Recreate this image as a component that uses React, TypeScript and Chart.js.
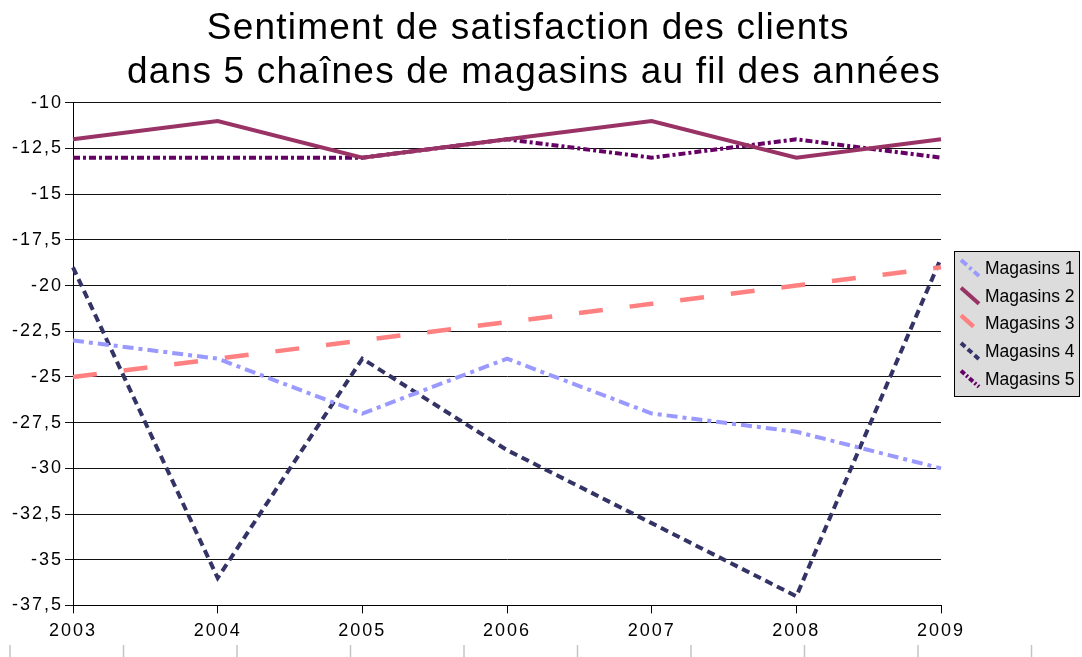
import React, { useEffect, useRef } from 'react';
import { Chart, registerables } from 'chart.js';

Chart.register(...registerables);

const years = ['2003', '2004', '2005', '2006', '2007', '2008', '2009'];
const magasins1 = [-23, -24, -27, -24, -27, -28, -30];
const magasins2 = [-12, -11, -13, -12, -11, -13, -12];
const magasins3 = [-25, -24, -23, -22, -21, -20, -19];
const magasins4 = [-19, -36, -24, -29, -33, -37, -18.5];
const magasins5 = [-13, -13, -13, -12, -13, -12, -13];
const seriesNames = ['Magasins 1', 'Magasins 2', 'Magasins 3', 'Magasins 4', 'Magasins 5'];
const titleLines = [
  'Sentiment de satisfaction des clients ',
  'dans 5 chaînes de magasins au fil des années',
];
const yMin = -37.5;
const yMax = -10;
const yStep = 2.5;

const FONT = '"Liberation Sans", Arial, Helvetica, sans-serif';

const spacingPlugin = {
  id: 'letterSpacingCtl',
  beforeDraw(chart: any) {
    chart.ctx.letterSpacing = '1.2px';
  },
  beforeDatasetsDraw(chart: any) {
    chart.ctx.letterSpacing = '0px';
  },
  afterDatasetsDraw(chart: any) {
    chart.ctx.letterSpacing = '2px';
  },
};

const boxLegendPlugin = {
  id: 'boxLegend',
  afterDraw(chart: any) {
    const ctx = chart.ctx;
    ctx.save();
    ctx.letterSpacing = '0px';
    // faint page ticks along bottom
    ctx.strokeStyle = '#C4C4C4';
    ctx.lineWidth = 1.5;
    for (let k = 0; k < 10; k++) {
      const x = 10 + k * 113.5;
      ctx.beginPath();
      ctx.moveTo(x, 645);
      ctx.lineTo(x, 657);
      ctx.stroke();
    }
    // legend box
    const x0 = 954, y0 = 251, w = 126, h = 146;
    ctx.fillStyle = '#DCDCDC';
    ctx.fillRect(x0, y0, w, h);
    ctx.strokeStyle = '#000';
    ctx.lineWidth = 1;
    ctx.strokeRect(x0 + 0.5, y0 + 0.5, w - 1, h - 1);
    chart.data.datasets.forEach((ds: any, i: number) => {
      const cy = 269 + i * 27.7;
      ctx.beginPath();
      ctx.setLineDash((ds.borderDash || []).map((d: number) => d * 0.7));
      ctx.strokeStyle = ds.borderColor;
      ctx.lineWidth = ds.borderWidth;
      ctx.lineCap = 'butt';
      ctx.moveTo(961, cy - 9);
      ctx.lineTo(979, cy + 7);
      ctx.stroke();
      ctx.setLineDash([]);
      ctx.fillStyle = '#000';
      ctx.font = `17.5px ${FONT}`;
      ctx.textBaseline = 'middle';
      ctx.textAlign = 'left';
      ctx.fillText(ds.label, 985, cy);
    });
    ctx.restore();
  },
};

export default function App() {
  const canvasRef = useRef<HTMLCanvasElement | null>(null);

  useEffect(() => {
    if (!canvasRef.current) return;
    const mk = (label: string, data: number[], color: string, dash: number[], width: number) => ({
      label,
      data,
      borderColor: color,
      backgroundColor: color,
      borderDash: dash,
      borderWidth: width,
      pointRadius: 0,
      pointHoverRadius: 0,
      tension: 0,
      fill: false,
      yAxisID: 'y',
    });
    const chart = new Chart(canvasRef.current, {
      type: 'line',
      data: {
        labels: years,
        datasets: [
          mk(seriesNames[0], magasins1, '#9999FF', [11, 5, 4, 5], 4),
          mk(seriesNames[1], magasins2, '#993366', [], 4),
          mk(seriesNames[2], magasins3, '#FF8080', [24, 27], 4.5),
          mk(seriesNames[3], magasins4, '#333366', [8, 5], 4),
          mk(seriesNames[4], magasins5, '#660066', [7, 3, 3, 3], 4),
        ],
      },
      options: {
        animation: false,
        responsive: true,
        maintainAspectRatio: false,
        devicePixelRatio: 1,
        events: [],
        layout: { padding: { left: 0, right: 14, top: 0, bottom: 8 } },
        plugins: {
          legend: { display: false },
          tooltip: { enabled: false },
          title: {
            display: true,
            text: titleLines,
            color: '#000',
            font: { family: FONT, size: 37, weight: 'normal', lineHeight: 1.2 },
            padding: { top: 6.5, bottom: 7.5 },
          },
        },
        scales: {
          x: {
            type: 'category',
            offset: false,
            grid: {
              display: true,
              drawOnChartArea: false,
              drawTicks: true,
              tickLength: 8,
              color: '#000',
              offset: false,
            },
            border: { display: true, color: '#000', width: 1 },
            ticks: {
              color: '#000',
              font: { family: FONT, size: 18 },
              padding: 7,
              maxRotation: 0,
              autoSkip: false,
              z: 1,
            },
          },
          y: {
            type: 'linear',
            position: 'left',
            min: yMin,
            max: yMax,
            grid: { color: '#111', tickLength: 8, drawTicks: true },
            border: { display: true, color: '#000', width: 1 },
            ticks: {
              stepSize: yStep,
              color: '#000',
              font: { family: FONT, size: 18 },
              padding: 2,
              z: 1,
              callback: (v: any) => (Math.round(Number(v) * 10) / 10).toString().replace('.', ','),
            },
            afterFit: (s: any) => {
              s.width = 73;
            },
          },
          y2: {
            type: 'linear',
            position: 'right',
            display: true,
            grid: { display: false, drawTicks: false },
            border: { display: false },
            ticks: { display: false },
            afterFit: (s: any) => {
              s.width = 127;
            },
          },
        },
      } as any,
      plugins: [spacingPlugin, boxLegendPlugin],
    });
    return () => chart.destroy();
  }, []);

  return (
    <div style={{ position: 'absolute', left: 0, top: 0, width: 1082, height: 657, background: '#fff' }}>
      <canvas ref={canvasRef} />
    </div>
  );
}
